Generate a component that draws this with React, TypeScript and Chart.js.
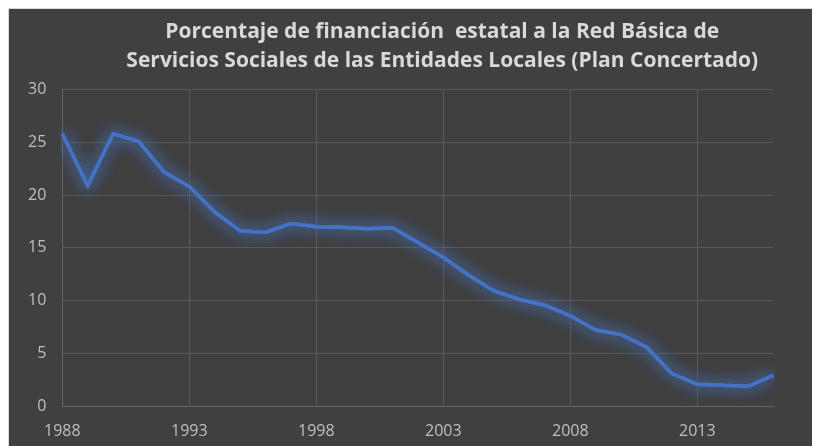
import React, { useEffect, useRef } from 'react';
import { Chart, registerables } from 'chart.js';

Chart.register(...registerables);

const years = [
  '1988', '1989', '1990', '1991', '1992', '1993', '1994', '1995', '1996', '1997',
  '1998', '1999', '2000', '2001', '2002', '2003', '2004', '2005', '2006', '2007',
  '2008', '2009', '2010', '2011', '2012', '2013', '2014', '2015', '2016',
];

const financiacion = [
  25.8, 20.9, 25.8, 25.1, 22.2, 20.8, 18.4, 16.6, 16.45, 17.3,
  17.0, 16.95, 16.8, 16.9, 15.5, 14.1, 12.4, 10.9, 10.1, 9.55,
  8.55, 7.2, 6.77, 5.6, 3.07, 2.06, 1.96, 1.87, 2.91,
];

const titleLines = [
  'Porcentaje de financiación  estatal a la Red Básica de',
  'Servicios Sociales de las Entidades Locales (Plan Concertado)',
];

const labelEvery = 5;

const glowPlugin = {
  id: 'glow',
  beforeDatasetsDraw(chart: any) {
    const ctx = chart.ctx;
    ctx.save();
    ctx.shadowColor = 'rgba(68,114,196,1)';
    ctx.shadowBlur = 15;
  },
  afterDatasetsDraw(chart: any) {
    const ctx = chart.ctx;
    const area = chart.chartArea;
    const meta = chart.getDatasetMeta(0);
    if (meta && meta.dataset) {
      ctx.save();
      ctx.beginPath();
      ctx.rect(area.left - 2, area.top - 2, area.right - area.left + 4, area.bottom - area.top + 4);
      ctx.clip();
      meta.dataset.draw(ctx, area);
      ctx.restore();
    }
    ctx.restore();
  },
};

const titleShift = {
  id: 'titleShift',
  afterLayout(chart: any) {
    const t = chart.titleBlock;
    if (t) {
      t.left += 51;
      t.right += 51;
    }
  },
};

export default function App() {
  const ref = useRef<HTMLCanvasElement | null>(null);

  useEffect(() => {
    if (!ref.current) return;
    const chart = new Chart(ref.current, {
      type: 'line',
      data: {
        labels: years,
        datasets: [
          {
            label: 'Porcentaje',
            data: financiacion,
            borderColor: '#4472c4',
            backgroundColor: '#4472c4',
            borderWidth: 3.5,
            pointRadius: 0,
            tension: 0,
            fill: false,
          },
        ],
      },
      options: {
        animation: false,
        responsive: true,
        maintainAspectRatio: false,
        layout: { padding: { left: 0, right: 43.5, top: 0, bottom: 0 } },
        plugins: {
          legend: { display: false },
          tooltip: { enabled: false },
          title: {
            display: true,
            text: titleLines,
            color: '#d9d9d9',
            font: { family: 'Open Sans', weight: 'bold', size: 21, lineHeight: 29 / 21 },
            padding: { top: 9, bottom: 13.5 },
          },
        },
        scales: {
          x: {
            type: 'category',
            offset: false,
            border: { display: true, color: '#666666' },
            grid: {
              drawTicks: false,
              color: (c: any) => (c.index % labelEvery === 0 ? '#595959' : 'rgba(0,0,0,0)'),
            },
            ticks: {
              autoSkip: false,
              maxRotation: 0,
              padding: 16,
              color: '#bfbfbf',
              font: { family: 'Open Sans', size: 16 },
              callback: (_v: any, i: number) => (i % labelEvery === 0 ? years[i] : ''),
            },
            afterFit: (s: any) => {
              s.height = 41;
            },
          },
          y: {
            min: 0,
            max: 30,
            border: { display: true, color: '#666666' },
            grid: { drawTicks: false, color: '#595959' },
            ticks: {
              stepSize: 5,
              padding: 16,
              color: '#bfbfbf',
              font: { family: 'Open Sans', size: 16 },
            },
            afterFit: (s: any) => {
              s.width = 53.3;
            },
          },
        },
      },
      plugins: [glowPlugin, titleShift],
    });
    return () => chart.destroy();
  }, []);

  return (
    <div
      style={{
        width: 808,
        height: 438,
        border: '1px solid #d9d9d9',
        background: '#404040',
        position: 'relative',
      }}
    >
      <canvas ref={ref} />
    </div>
  );
}
